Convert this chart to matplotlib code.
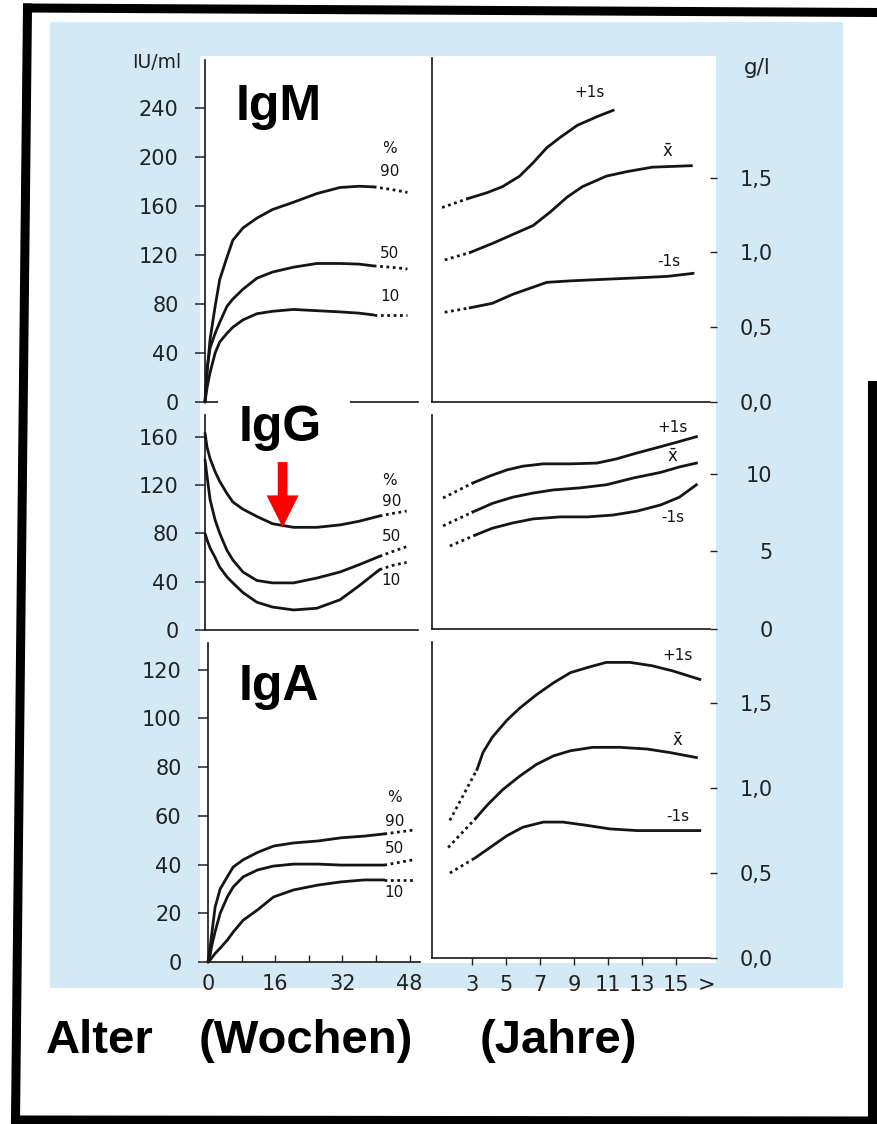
import matplotlib
matplotlib.use("Agg")
import matplotlib.pyplot as plt
from matplotlib.patches import Rectangle
from matplotlib.lines import Line2D

# ---------------- data ----------------
# weeks (left panels)
igm_w = [0, 0.5, 1.2, 2.4, 3.5, 5.2, 6.6, 9, 12.3, 16, 21, 26.5, 32, 36.5, 40]
igm_p90 = [0, 24, 51, 78, 100, 118, 132, 142, 150, 157, 163, 170, 175, 176, 175.5]
igm_p50 = [0, 28, 44, 56, 65, 78, 84, 92, 101, 106, 110, 113, 113, 112.5, 111]
igm_p10 = [0, 12, 24, 40, 49, 56, 61, 67, 72, 74, 75.5, 74.5, 73.5, 72.5, 71]
igm_w_dot = [40, 44, 48]
igm_p90_dot = [175.5, 173.5, 171]
igm_p50_dot = [111, 110, 108.5]
igm_p10_dot = [71, 71, 71]

igg_w = [0, 0.5, 1.2, 2.4, 3.5, 5.2, 6.6, 9, 12.3, 16, 21, 26.5, 32, 36.5, 41.4]
igg_p90 = [163, 151, 142, 131, 123, 113, 106, 100, 94, 88, 85, 85, 87, 90, 94.4]
igg_p50 = [141, 127, 108, 91, 80, 66, 58, 48, 41, 39, 39, 43, 48, 54, 61]
igg_p10 = [80, 74.5, 68, 60, 52, 44, 39, 31, 23, 19, 16.6, 18, 25, 36.5, 50]
igg_w_dot = [41.4, 44.5, 47.8]
igg_p90_dot = [94.4, 96.5, 98.5]
igg_p50_dot = [61, 65, 69]
igg_p10_dot = [50, 53.5, 56]

iga_w = [0, 0.5, 1, 1.7, 2.9, 4.6, 6, 8.4, 11.8, 15.6, 20.4, 26.2, 31.7, 37.2, 42]
iga_p90 = [0, 6, 13, 22.6, 30, 35, 39, 42, 45, 47.6, 48.9, 49.7, 51, 51.7, 52.6]
iga_p50 = [0, 3, 7.5, 12.5, 20, 26.7, 30.8, 35, 37.8, 39.4, 40.2, 40.2, 39.8, 39.8, 39.8]
iga_p10 = [0, 0.8, 2, 3.5, 5.7, 9, 12.3, 17.2, 21.4, 26.7, 29.6, 31.6, 32.9, 33.7, 33.7]
iga_w_dot = [42, 45.5, 49]
iga_p90_dot = [52.6, 53.4, 54.2]
iga_p50_dot = [39.8, 40.9, 42]
iga_p10_dot = [33.7, 33.7, 33.7]

# years (right panels)
igm_up_x = [2.76, 3.9, 4.8, 5.8, 6.6, 7.4, 8.2, 9.2, 10.4, 11.3]
igm_up_y = [1.36, 1.40, 1.44, 1.51, 1.60, 1.70, 1.77, 1.85, 1.91, 1.95]
igm_up_dx = [1.24, 2.76]
igm_up_dy = [1.30, 1.36]
igm_mn_x = [2.9, 4.2, 5.4, 6.6, 7.6, 8.6, 9.5, 10.9, 12.1, 13.6, 15.9]
igm_mn_y = [1.00, 1.06, 1.12, 1.18, 1.27, 1.37, 1.44, 1.51, 1.54, 1.57, 1.58]
igm_mn_dx = [1.4, 2.9]
igm_mn_dy = [0.95, 1.00]
igm_lo_x = [2.9, 4.2, 5.4, 6.4, 7.4, 8.8, 10.7, 12.7, 14.5, 16.0]
igm_lo_y = [0.63, 0.66, 0.72, 0.76, 0.80, 0.81, 0.82, 0.83, 0.84, 0.86]
igm_lo_dx = [1.4, 2.9]
igm_lo_dy = [0.60, 0.63]

igg_up_x = [3.06, 4.06, 5.06, 6.0, 7.2, 8.8, 10.35, 11.5, 12.7, 13.9, 15.1, 16.2]
igg_up_y = [9.42, 9.87, 10.26, 10.5, 10.65, 10.65, 10.7, 10.97, 11.35, 11.7, 12.06, 12.4]
igg_up_dx = [1.3, 3.06]
igg_up_dy = [8.45, 9.42]
igg_mn_x = [3.06, 4.2, 5.4, 6.6, 7.8, 9.35, 10.9, 12.5, 14.1, 15.2, 16.2]
igg_mn_y = [7.55, 8.1, 8.5, 8.77, 8.97, 9.1, 9.3, 9.74, 10.1, 10.45, 10.7]
igg_mn_dx = [1.3, 3.06]
igg_mn_dy = [6.65, 7.55]
igg_lo_x = [3.2, 4.2, 5.4, 6.6, 8.2, 9.8, 11.3, 12.7, 14.1, 15.2, 16.2]
igg_lo_y = [6.06, 6.5, 6.84, 7.1, 7.23, 7.23, 7.35, 7.6, 8.0, 8.5, 9.3]
igg_lo_dx = [1.7, 3.2]
igg_lo_dy = [5.35, 6.06]

iga_up_x = [3.3, 3.65, 4.2, 5.06, 5.8, 6.8, 7.8, 8.8, 9.8, 10.9, 12.3, 13.6, 14.8, 16.4]
iga_up_y = [1.11, 1.21, 1.30, 1.40, 1.47, 1.55, 1.62, 1.68, 1.71, 1.74, 1.74, 1.72, 1.69, 1.64]
iga_up_dx = [1.7, 3.3]
iga_up_dy = [0.81, 1.11]
iga_mn_x = [3.2, 3.9, 4.8, 5.8, 6.8, 7.8, 8.8, 10.1, 11.7, 13.3, 14.6, 16.2]
iga_mn_y = [0.82, 0.90, 0.99, 1.07, 1.14, 1.19, 1.22, 1.24, 1.24, 1.23, 1.21, 1.18]
iga_mn_dx = [1.6, 3.2]
iga_mn_dy = [0.65, 0.82]
iga_lo_x = [3.2, 4.06, 5.06, 6.0, 7.2, 8.35, 9.8, 11.1, 12.7, 14.6, 16.4]
iga_lo_y = [0.59, 0.65, 0.72, 0.77, 0.80, 0.80, 0.78, 0.76, 0.75, 0.75, 0.75]
iga_lo_dx = [1.7, 3.2]
iga_lo_dy = [0.50, 0.59]

# tick values / labels
igm_left_ticks = [0, 40, 80, 120, 160, 200, 240]
igg_left_ticks = [0, 40, 80, 120, 160]
iga_left_ticks = [0, 20, 40, 60, 80, 100, 120]
week_ticks = [0, 8, 16, 24, 32, 40, 48]
week_labels = ["0", "", "16", "", "32", "", "48"]
year_ticks = [3, 5, 7, 9, 11, 13, 15, 16.8]
year_labels = ["3", "5", "7", "9", "11", "13", "15", ">"]
gl_ticks = [0.0, 0.5, 1.0, 1.5]
gl_labels = ["0,0", "0,5", "1,0", "1,5"]
igg_gl_ticks = [0, 5, 10]
igg_gl_labels = ["0", "5", "10"]

# ---------------- figure ----------------
W, H = 877, 1124
fig = plt.figure(figsize=(W / 100, H / 100), dpi=100)
fig.patch.set_facecolor("white")


def frect(l, t, r, b):
    return [l / W, 1 - b / H, (r - l) / W, (b - t) / H]


def fpt(x, y):
    return (x / W, 1 - y / H)


BLUE = "#d4e9f6"
INK = "#151515"
fig.add_artist(Rectangle(fpt(50, 988), (843 - 50) / W, (988 - 22) / H,
                         transform=fig.transFigure, facecolor=BLUE,
                         edgecolor="none", zorder=-3))
fig.add_artist(Rectangle(fpt(200, 963), (716 - 200) / W, (963 - 56) / H,
                         transform=fig.transFigure, facecolor="white",
                         edgecolor="none", zorder=-2))

TICKFS = 15
LBLFS = 11
LW = 2.0
DOT = (0, (1, 1.3))


def style_left(ax, ylim, yticks):
    ax.set_facecolor("none")
    ax.set_xlim(0, 50.5)
    ax.set_ylim(*ylim)
    for s in ("top", "right"):
        ax.spines[s].set_visible(False)
    for s in ("left", "bottom"):
        ax.spines[s].set_linewidth(1.2)
        ax.spines[s].set_color(INK)
    ax.set_yticks(yticks)
    ax.tick_params(axis="y", direction="out", length=7, width=1.1,
                   pad=12, labelsize=TICKFS, colors="#222222")
    ax.set_xticks([])


def style_right(ax, ylim, yticks, ylabels):
    ax.set_facecolor("none")
    ax.set_xlim(0.65, 17.0)
    ax.set_ylim(*ylim)
    for s in ("top", "right"):
        ax.spines[s].set_visible(False)
    for s in ("left", "bottom"):
        ax.spines[s].set_linewidth(1.2)
        ax.spines[s].set_color(INK)
    ax.yaxis.tick_right()
    ax.set_yticks(yticks)
    ax.set_yticklabels(ylabels)
    ax.tick_params(axis="y", direction="out", length=5, width=1.0,
                   pad=40, labelsize=TICKFS, colors="#222222")
    for t in ax.get_yticklabels():
        t.set_horizontalalignment("right")
    ax.set_xticks([])


def pct_curves(ax, x, curves, xd, dots):
    for y in curves:
        ax.plot(x, y, color=INK, lw=LW, solid_capstyle="round",
                solid_joinstyle="round", clip_on=False)
    for y in dots:
        ax.plot(xd, y, color=INK, lw=LW, linestyle=DOT, clip_on=False)


def sd_curves(ax, sets):
    for xs, ys, xd, yd in sets:
        ax.plot(xs, ys, color=INK, lw=LW, solid_joinstyle="round", clip_on=False)
        ax.plot(xd, yd, color=INK, lw=LW, linestyle=DOT, clip_on=False)


def lbl(ax, x, y, s, fs=LBLFS):
    ax.text(x, y, s, ha="center", va="center", fontsize=fs, color=INK)


# ----- IgM -----
axLM = fig.add_axes(frect(205, 60, 418, 402))
style_left(axLM, (0, 279), igm_left_ticks)
pct_curves(axLM, igm_w, [igm_p90, igm_p50, igm_p10], igm_w_dot,
           [igm_p90_dot, igm_p50_dot, igm_p10_dot])
lbl(axLM, 43.8, 207, "%")
lbl(axLM, 43.8, 188, "90")
lbl(axLM, 43.8, 121, "50")
lbl(axLM, 43.8, 86, "10")

axRM = fig.add_axes(frect(432, 58, 710, 402))
style_right(axRM, (0, 2.30), gl_ticks, gl_labels)
sd_curves(axRM, [(igm_up_x, igm_up_y, igm_up_dx, igm_up_dy),
                 (igm_mn_x, igm_mn_y, igm_mn_dx, igm_mn_dy),
                 (igm_lo_x, igm_lo_y, igm_lo_dx, igm_lo_dy)])
lbl(axRM, 9.9, 2.07, "+1s")
lbl(axRM, 14.5, 1.67, r"$\bar{\mathrm{x}}$", fs=12)
lbl(axRM, 14.6, 0.94, "-1s")

# ----- IgG -----
axLG = fig.add_axes(frect(205, 415, 418, 630))
style_left(axLG, (0, 178), igg_left_ticks)
pct_curves(axLG, igg_w, [igg_p90, igg_p50, igg_p10], igg_w_dot,
           [igg_p90_dot, igg_p50_dot, igg_p10_dot])
lbl(axLG, 43.8, 124, "%")
lbl(axLG, 44.2, 106, "90")
lbl(axLG, 44.2, 77, "50")
lbl(axLG, 44.2, 41, "10")
axLG.annotate("", xy=(18.4, 85), xytext=(18.4, 139),
              arrowprops=dict(arrowstyle="simple,head_length=23,head_width=23,tail_width=7",
                              mutation_scale=1, color="#ff0000", lw=0,
                              shrinkA=0, shrinkB=0), zorder=6)

axRG = fig.add_axes(frect(432, 415, 710, 629))
style_right(axRG, (0, 13.8), igg_gl_ticks, igg_gl_labels)
sd_curves(axRG, [(igg_up_x, igg_up_y, igg_up_dx, igg_up_dy),
                 (igg_mn_x, igg_mn_y, igg_mn_dx, igg_mn_dy),
                 (igg_lo_x, igg_lo_y, igg_lo_dx, igg_lo_dy)])
lbl(axRG, 14.8, 13.0, "+1s")
lbl(axRG, 14.8, 11.1, r"$\bar{\mathrm{x}}$", fs=12)
lbl(axRG, 14.8, 7.2, "-1s")

# ----- IgA -----
axLA = fig.add_axes(frect(208, 643, 420, 962))
style_left(axLA, (0, 131), iga_left_ticks)
pct_curves(axLA, iga_w, [iga_p90, iga_p50, iga_p10], iga_w_dot,
           [iga_p90_dot, iga_p50_dot, iga_p10_dot])
axLA.set_xticks(week_ticks)
axLA.set_xticklabels(week_labels)
axLA.tick_params(axis="x", direction="in", length=5, width=1.0, pad=9,
                 labelsize=TICKFS, colors="#222222")
lbl(axLA, 44.4, 67.4, "%")
lbl(axLA, 44.4, 57.5, "90")
lbl(axLA, 44.4, 46.8, "50")
lbl(axLA, 44.4, 28.7, "10")

axRA = fig.add_axes(frect(432, 642, 710, 958))
style_right(axRA, (0, 1.86), gl_ticks, gl_labels)
sd_curves(axRA, [(iga_up_x, iga_up_y, iga_up_dx, iga_up_dy),
                 (iga_mn_x, iga_mn_y, iga_mn_dx, iga_mn_dy),
                 (iga_lo_x, iga_lo_y, iga_lo_dx, iga_lo_dy)])
axRA.set_xticks(year_ticks)
axRA.set_xticklabels(year_labels)
axRA.tick_params(axis="x", direction="out", length=5, width=1.0, pad=7,
                 labelsize=TICKFS, colors="#222222")
axRA.xaxis.get_major_ticks()[-1].tick1line.set_visible(False)
lbl(axRA, 15.1, 1.78, "+1s")
lbl(axRA, 15.1, 1.28, r"$\bar{\mathrm{x}}$", fs=12)
lbl(axRA, 15.1, 0.83, "-1s")

# unit labels
fig.text(*fpt(157, 62), "IU/ml", ha="center", va="center", fontsize=13.5, color="#222222")
fig.text(*fpt(757, 68), "g/l", ha="center", va="center", fontsize=15.5, color="#222222")

# big overlay labels
BIG = dict(fontfamily="Liberation Sans", fontweight="bold", fontsize=36,
           color="black", va="baseline", ha="left")
fig.text(*fpt(236, 120), "IgM", zorder=7, **BIG)
fig.add_artist(Rectangle(fpt(218, 448), (350 - 218) / W, (448 - 398) / H,
                         transform=fig.transFigure, facecolor="white",
                         edgecolor="none", zorder=5))
fig.text(*fpt(239, 441), "IgG", zorder=7, **BIG)
fig.text(*fpt(239, 700), "IgA", zorder=7, **BIG)

XL = dict(fontfamily="Liberation Sans", fontweight="bold", fontsize=34,
          color="black", va="baseline", ha="left")
fig.text(*fpt(46, 1053), "Alter", **XL)
fig.text(*fpt(199, 1053), "(Wochen)", **XL)
fig.text(*fpt(480, 1053), "(Jahre)", **XL)

# scanned-page frame
FR = dict(color="black", linewidth=6.5, transform=fig.transFigure, zorder=10,
          solid_capstyle="projecting")
fig.add_artist(Line2D([27.5 / W, 877 / W], [1 - 8 / H, 1 - 12.5 / H], **FR))
fig.add_artist(Line2D([27.5 / W, 15.5 / W], [1 - 8 / H, 1 - 1120 / H], **FR))
fig.add_artist(Line2D([15.5 / W, 872 / W], [1 - 1120 / H, 1 - 1121 / H], **FR))
fig.add_artist(Line2D([872 / W, 872 / W], [1 - 1121 / H, 1 - 385 / H], **FR))

fig.savefig("out.png", dpi=100, facecolor="white")
